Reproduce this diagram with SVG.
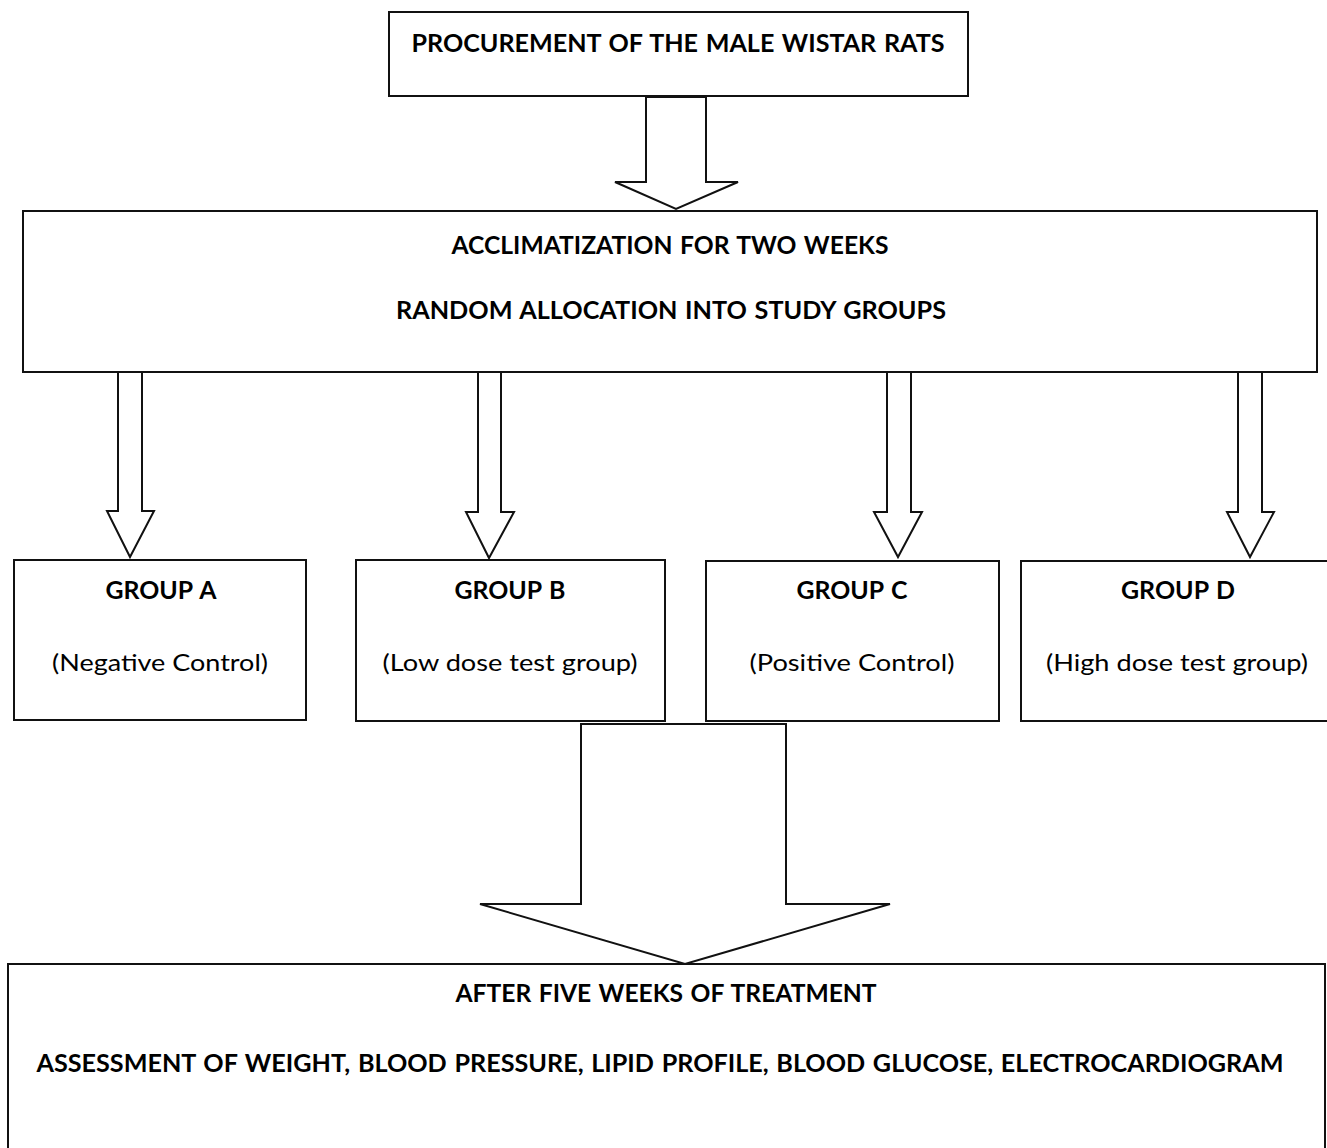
<svg xmlns="http://www.w3.org/2000/svg" width="1327" height="1148" viewBox="0 0 1327 1148">
<style>
.box{fill:#fff;stroke:#111;stroke-width:2}
.arr{fill:#fff;stroke:#111;stroke-width:2;stroke-linejoin:miter}
.b{font-family:Lato,"Open Sans","Liberation Sans",sans-serif;font-weight:bold;font-size:24px;word-spacing:1.5px;fill:#000;text-anchor:middle}
.r{font-family:Lato,"Open Sans","Liberation Sans",sans-serif;font-size:24px;fill:#000;text-anchor:middle}
</style>
<rect width="1327" height="1148" fill="#fff"/>
<g id="connectors">
<polygon class="arr" points="646,97 706,97 706,182 738,182 676,209 615,182 646,182"/>
<polygon class="arr" points="118,372 142,372 142,511 154,511 130,557 107,511 118,511"/>
<polygon class="arr" points="478,372 501,372 501,512 514,512 489,558 466,512 478,512"/>
<polygon class="arr" points="887,372 911,372 911,512 922,512 898,557 874,512 887,512"/>
<polygon class="arr" points="1238,372 1262,372 1262,512 1274,512 1250,557 1227,512 1238,512"/>
<polygon class="arr" points="581,724 786,724 786,904 890,904 685,964 480,904 581,904"/>
</g>
<g id="n-procurement">
<rect class="box" x="389" y="12" width="579" height="84"/>
<text class="b" x="678" y="52" textLength="533" lengthAdjust="spacingAndGlyphs">PROCUREMENT OF THE MALE WISTAR RATS</text>
</g>
<g id="n-acclimatization">
<rect class="box" x="23" y="211" width="1294" height="161"/>
<text class="b" x="670" y="254" textLength="437" lengthAdjust="spacingAndGlyphs">ACCLIMATIZATION FOR TWO WEEKS</text>
<text class="b" x="671" y="319" textLength="550" lengthAdjust="spacingAndGlyphs">RANDOM ALLOCATION INTO STUDY GROUPS</text>
</g>
<g id="n-groupA">
<rect class="box" x="14" y="560" width="292" height="160"/>
<text class="b" x="161" y="599" textLength="111" lengthAdjust="spacingAndGlyphs">GROUP A</text>
<text class="r" x="160" y="671" textLength="216" lengthAdjust="spacingAndGlyphs">(Negative Control)</text>
</g>
<g id="n-groupB">
<rect class="box" x="356" y="560" width="309" height="161"/>
<text class="b" x="510" y="599" textLength="111" lengthAdjust="spacingAndGlyphs">GROUP B</text>
<text class="r" x="510" y="671" textLength="255" lengthAdjust="spacingAndGlyphs">(Low dose test group)</text>
</g>
<g id="n-groupC">
<rect class="box" x="706" y="561" width="293" height="160"/>
<text class="b" x="852" y="599" textLength="111" lengthAdjust="spacingAndGlyphs">GROUP C</text>
<text class="r" x="852" y="671" textLength="205" lengthAdjust="spacingAndGlyphs">(Positive Control)</text>
</g>
<g id="n-groupD">
<rect class="box" x="1021" y="561" width="320" height="160"/>
<text class="b" x="1178" y="599" textLength="114" lengthAdjust="spacingAndGlyphs">GROUP D</text>
<text class="r" x="1177" y="671" textLength="262" lengthAdjust="spacingAndGlyphs">(High dose test group)</text>
</g>
<g id="n-assessment">
<rect class="box" x="8" y="964" width="1317" height="200"/>
<text class="b" x="666" y="1002" textLength="421" lengthAdjust="spacingAndGlyphs">AFTER FIVE WEEKS OF TREATMENT</text>
<text class="b" x="660" y="1072" textLength="1247" lengthAdjust="spacingAndGlyphs">ASSESSMENT OF WEIGHT, BLOOD PRESSURE, LIPID PROFILE, BLOOD GLUCOSE, ELECTROCARDIOGRAM</text>
</g>
</svg>
